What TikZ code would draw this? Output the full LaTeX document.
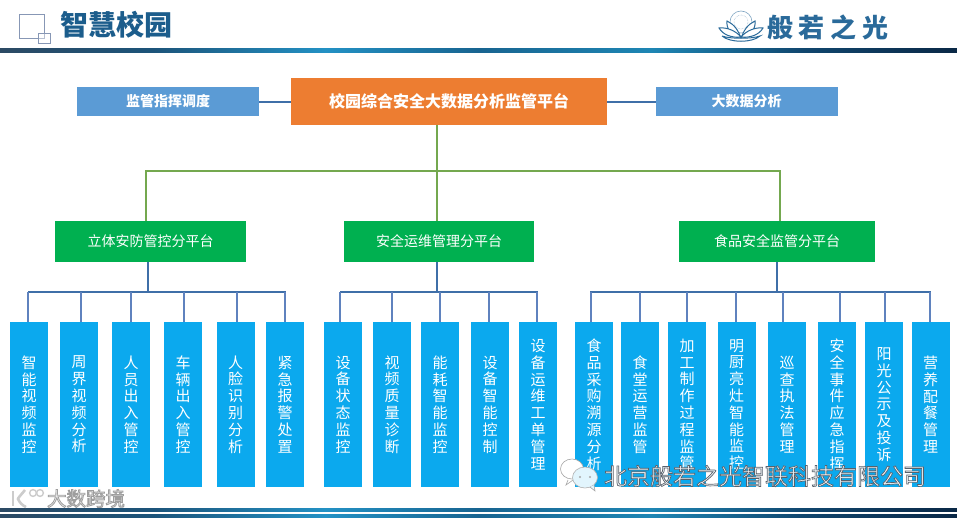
\documentclass[tikz,border=0pt]{standalone}
\usepackage{fontspec}
\setmainfont{Noto Sans CJK SC}
\usetikzlibrary{calc}
\definecolor{cOrange}{HTML}{ED7D31}
\definecolor{cBlue}{HTML}{5B9BD5}
\definecolor{cGreen}{HTML}{00B050}
\definecolor{cLeaf}{HTML}{0BA9EE}
\definecolor{cLink}{HTML}{3F6FA8}
\definecolor{cDrop}{HTML}{5F82BE}
\definecolor{cOlive}{HTML}{74A84F}
\definecolor{cTitle}{HTML}{1C5D8C}
\definecolor{cIcon}{HTML}{8797B5}
\definecolor{cLotus}{HTML}{2A6A9A}
\definecolor{sA}{HTML}{2C4A64}
\definecolor{sB}{HTML}{1C547A}
\definecolor{sC}{HTML}{2391C4}
\definecolor{sD}{HTML}{186490}
\definecolor{sE}{HTML}{1E86B4}
\definecolor{sF}{HTML}{10466E}
\definecolor{sG}{HTML}{0A2846}
\pgfdeclarehorizontalshading{barshade}{100bp}{
 color(0bp)=(sA);
 color(25bp)=(sA);
 color(33bp)=(sB);
 color(42bp)=(sC);
 color(50bp)=(sD);
 color(59bp)=(sE);
 color(67bp)=(sF);
 color(75bp)=(sG);
 color(100bp)=(sG)}
\newcommand{\outlinetext}[3]{\special{pdf:code q #1 w #2 RG #3 rg 2 Tr}}
\newcommand{\outlineend}{\special{pdf:code 0 Tr Q}}
\tikzset{x=1pt,y=-1pt,
 every node/.style={inner sep=0pt,outer sep=0pt},
 rootbox/.style={fill=cOrange,text=white,font=\fontsize{16}{18}\selectfont\bfseries,minimum width=316pt,minimum height=47pt},
 sidebox/.style={fill=cBlue,text=white,font=\fontsize{14}{16}\selectfont\bfseries,minimum width=182pt,minimum height=29pt},
 subbox/.style={fill=cGreen,text=white,font=\fontsize{14}{16}\selectfont,minimum height=41pt},
 leafbox/.style={fill=cLeaf,text=white,font=\fontsize{15}{16.8}\selectfont,align=center,minimum width=38pt,minimum height=165pt,anchor=north},
 toplink/.style={draw=cLink,line width=2pt},
 trunk/.style={draw=cOlive,line width=1.6pt},
 stem/.style={draw=cLink,line width=1.6pt},
 drop/.style={draw=cDrop,line width=1.1pt},
 lotus/.style={draw=cLotus,line width=1pt,fill=white}}
\begin{document}
\begin{tikzpicture}
\useasboundingbox (0,0) rectangle (957,517);
\fill[white] (0,0) rectangle (957,517);
% bars
\shade[shading=barshade] (0,48) rectangle (957,52.5);
\shade[shading=barshade] (0,508) rectangle (957,511.5);
\shade[shading=barshade] (0,514.5) rectangle (957,517);
% title icon
\draw[cIcon,line width=1pt] (19.5,14.5) rectangle (44,38);
\draw[cIcon,line width=1pt,fill=white,fill opacity=0.4] (38.5,33.5) rectangle (50.5,43.5);
\node[font=\fontsize{28}{30}\selectfont\bfseries,text=cTitle,anchor=west] (title) at (60,25) {智慧校园};
% logo
\begin{scope}
\draw[cLotus!60,fill=white,line width=0.6pt] (741,22) circle (11);
\draw[cLotus!50,line width=0.5pt,densely dotted] (741,22) circle (7);
\draw[lotus] (741,39) .. controls (731,36) and (726,28) .. (727,21) .. controls (734,24) and (739,31) .. (741,39);
\draw[lotus] (741,39) .. controls (751,36) and (756,28) .. (755,21) .. controls (748,24) and (743,31) .. (741,39);
\draw[lotus] (741,37) .. controls (732,38) and (723,35) .. (719,28) .. controls (727,27) and (736,31) .. (741,37);
\draw[lotus] (741,37) .. controls (750,38) and (759,35) .. (763,28) .. controls (755,27) and (746,31) .. (741,37);
\draw[lotus] (722,36) .. controls (730,43) and (752,43) .. (760,36) .. controls (752,39) and (730,39) .. (722,36);
\end{scope}
\node[font=\fontsize{26}{28}\selectfont\bfseries\addfontfeature{LetterSpace=22},text=cLotus,anchor=west] (brand) at (767,27) {般若之光};
% top row
\node[rootbox] (root) at (449,101.5) {校园综合安全大数据分析监管平台};
\node[sidebox] (sl) at (168,101.5) {监管指挥调度};
\node[sidebox] (sr) at (746.5,101.5) {大数据分析};
\draw[toplink] (sl) -- (root);
\draw[toplink] (root) -- (sr);
% subs
\node[subbox,minimum width=191pt] (g1) at (150.5,241.5) {立体安防管控分平台};
\node[subbox,minimum width=190pt] (g2) at (439,241.5) {安全运维管理分平台};
\node[subbox,minimum width=196pt] (g3) at (777,241.5) {食品安全监管分平台};
\coordinate (tj) at (437,171);
\coordinate (tl) at (146,171);
\coordinate (tr) at (780,171);
\draw[trunk] (tj |- root.south) -- (tj);
\draw[trunk] (tl |- g1.north) -- (tl) -- (tr) -- (tr |- g3.north);
\draw[trunk] (tj) -- (tj |- g2.north);
% buses
\coordinate (b1) at (148,292);
\coordinate (b2) at (437,292);
\coordinate (b3) at (777,292);
\draw[stem] (b1 |- g1.south) -- (b1);
\draw[stem] (b2 |- g2.south) -- (b2);
\draw[stem] (b3 |- g3.south) -- (b3);
\draw[stem] (28,292) -- (285.5,292);
\draw[stem] (340,292) -- (537.5,292);
\draw[stem] (590,292) -- (930.5,292);
% leaves
\foreach \n/\xc/\dx/\t in {
 a1/29/28/智\\能\\视\\频\\监\\控,
 a2/79/81/周\\界\\视\\频\\分\\析,
 a3/131/131/人\\员\\出\\入\\管\\控,
 a4/183/184/车\\辆\\出\\入\\管\\控,
 a5/235.5/237/人\\脸\\识\\别\\分\\析,
 a6/285/285/紧\\急\\报\\警\\处\\置,
 c1/343/340/设\\备\\状\\态\\监\\控,
 c2/392/392/视\\频\\质\\量\\诊\\断,
 c3/440/440/能\\耗\\智\\能\\监\\控,
 c4/490/489/设\\备\\智\\能\\控\\制,
 c5/538/537/设\\备\\运\\维\\工\\单\\管\\理,
 e1/594/591/食\\品\\采\\购\\溯\\源\\分\\析,
 e2/640/640/食\\堂\\运\\营\\监\\管,
 e3/687/687/加\\工\\制\\作\\过\\程\\监\\管,
 e4/736.5/736/明\\厨\\亮\\灶\\智\\能\\监\\控,
 e5/787/783/巡\\查\\执\\法\\管\\理,
 e6/837/840/安\\全\\事\\件\\应\\急\\指\\挥,
 e7/884/885/阳\\光\\公\\示\\及\\投\\诉,
 e8/930.5/930/营\\养\\配\\餐\\管\\理}{
  \node[leafbox] (\n) at (\xc,322) {\t};
  \draw[drop] (\dx,292) -- (\dx,322);
}
% watermarks
\begin{scope}
\draw[gray!70,fill=white,line width=0.6pt] (572,469) ellipse (11.5 and 10);
\draw[gray!70,fill=white,line width=0.6pt] (568,480) -- (566,485) -- (573,480);
\draw[gray!60,fill=cLeaf!12,line width=0.6pt] (585,477.5) ellipse (12.5 and 10.5);
\draw[gray!70,fill=cLeaf!12,line width=0.6pt] (590,487) -- (595,491) -- (594,485);
\fill[gray!70] (580,477) circle (1.2) (590,477) circle (1.2);
\end{scope}
\node[font=\fontsize{23}{25}\selectfont,anchor=west] (wm1) at (604,476) {\outlinetext{0.7}{0.35 0.38 0.42}{0.95 0.97 0.98}北京般若之光智联科技有限公司\outlineend};
\begin{scope}[draw=gray!40,line width=2.6pt]
\draw (13,491) -- (13,506);
\draw (25,490) .. controls (20,496) and (18,498) .. (18,499) .. controls (20,503) and (22,505) .. (26,507);
\draw[line width=1.4pt] (33,493) circle (3.4);
\draw[line width=1.4pt] (40,493) circle (3.4);
\end{scope}
\node[font=\fontsize{19.5}{21}\selectfont,anchor=west] (wm2) at (47,498.5) {\outlinetext{0.8}{0.62 0.62 0.62}{0.97 0.97 0.97}大数跨境\outlineend};
\end{tikzpicture}
\end{document}
